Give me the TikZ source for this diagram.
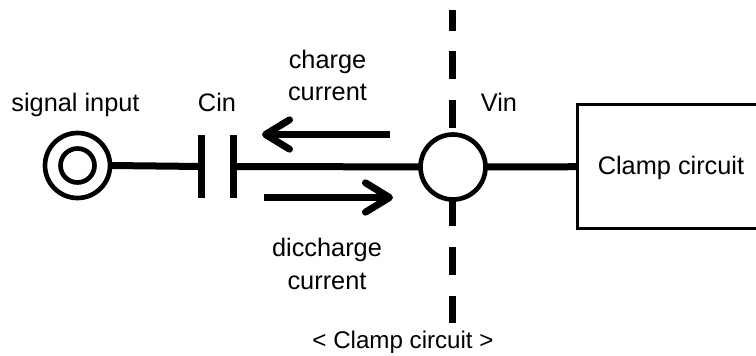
\documentclass[tikz,border=0pt]{standalone}
\usepackage{fontspec}
\setmainfont{Liberation Sans}
\usetikzlibrary{arrows.meta}
\tikzset{
  wire/.style={line width=5.25pt},
  ring/.style={draw,circle,line width=3.5pt,inner sep=0pt,outer sep=0pt},
  lbl/.style={inner sep=0pt,anchor=base,font=\fontsize{19}{23}\selectfont},
  current/.style={line width=5.25pt,-{Straight Barb[length=18pt,width=22pt,line width=5.25pt,round]}}
}
\begin{document}
\begin{tikzpicture}[x=0.75pt,y=-0.75pt]
\useasboundingbox (0,0) rectangle (756,356);
\coordinate (dtop) at (452.5,10);
\coordinate (dtopend) at (452.5,31);
\coordinate (dstart) at (452.5,51);
\coordinate (dbot) at (452.5,323);
\draw[wire] (dtop) -- (dtopend);
\draw[wire,dash pattern=on 21pt off 15.75pt] (dstart) -- (dbot);
\node[ring,fill=white,minimum size=48.75pt] (vin) at (453,167) {};
\node[draw,line width=2.25pt,minimum width=160pt,minimum height=93pt,inner sep=0pt,outer sep=0pt,anchor=west] (clamp) at (577.5,166.5) {};
\node[ring,minimum size=48.75pt] (src) at (77.5,165.5) {};
\node[ring,minimum size=25.5pt] (srci) at (77.5,165.5) {};
\coordinate (p1) at (201.5,166.5);
\coordinate (p2) at (233.5,166.5);
\coordinate (p1t) at (201.5,135);
\coordinate (p1b) at (201.5,198);
\coordinate (p2t) at (233.5,135);
\coordinate (p2b) at (233.5,198);
\draw[wire] (src.east) -- (p1);
\draw[wire] (p2) -- (vin);
\draw[wire] (vin) -- (clamp);
\draw[wire] (p1t) -- (p1b);
\draw[wire] (p2t) -- (p2b);
\coordinate (a1s) at (390,134.5);
\coordinate (a1e) at (262,134.5);
\coordinate (a2s) at (264,197.5);
\coordinate (a2e) at (393,197.5);
\draw[current] (a1s) -- (a1e);
\draw[current] (a2s) -- (a2e);
\node[lbl] (t1) at (75.5,111.5) {signal input};
\node[lbl] (t2) at (217,111.5) {Cin};
\node[lbl] (t3) at (327.5,69) {charge};
\node[lbl] (t4) at (327.5,101) {current};
\node[lbl] (t5) at (499,112) {Vin};
\node[lbl] (t6) at (671,174.5) {Clamp circuit};
\node[lbl] (t7) at (327,256) {diccharge};
\node[lbl] (t8) at (327,289) {current};
\node[lbl,font=\fontsize{18.1}{22}\selectfont] (t9) at (403,348) {< Clamp circuit >};
\end{tikzpicture}
\end{document}
